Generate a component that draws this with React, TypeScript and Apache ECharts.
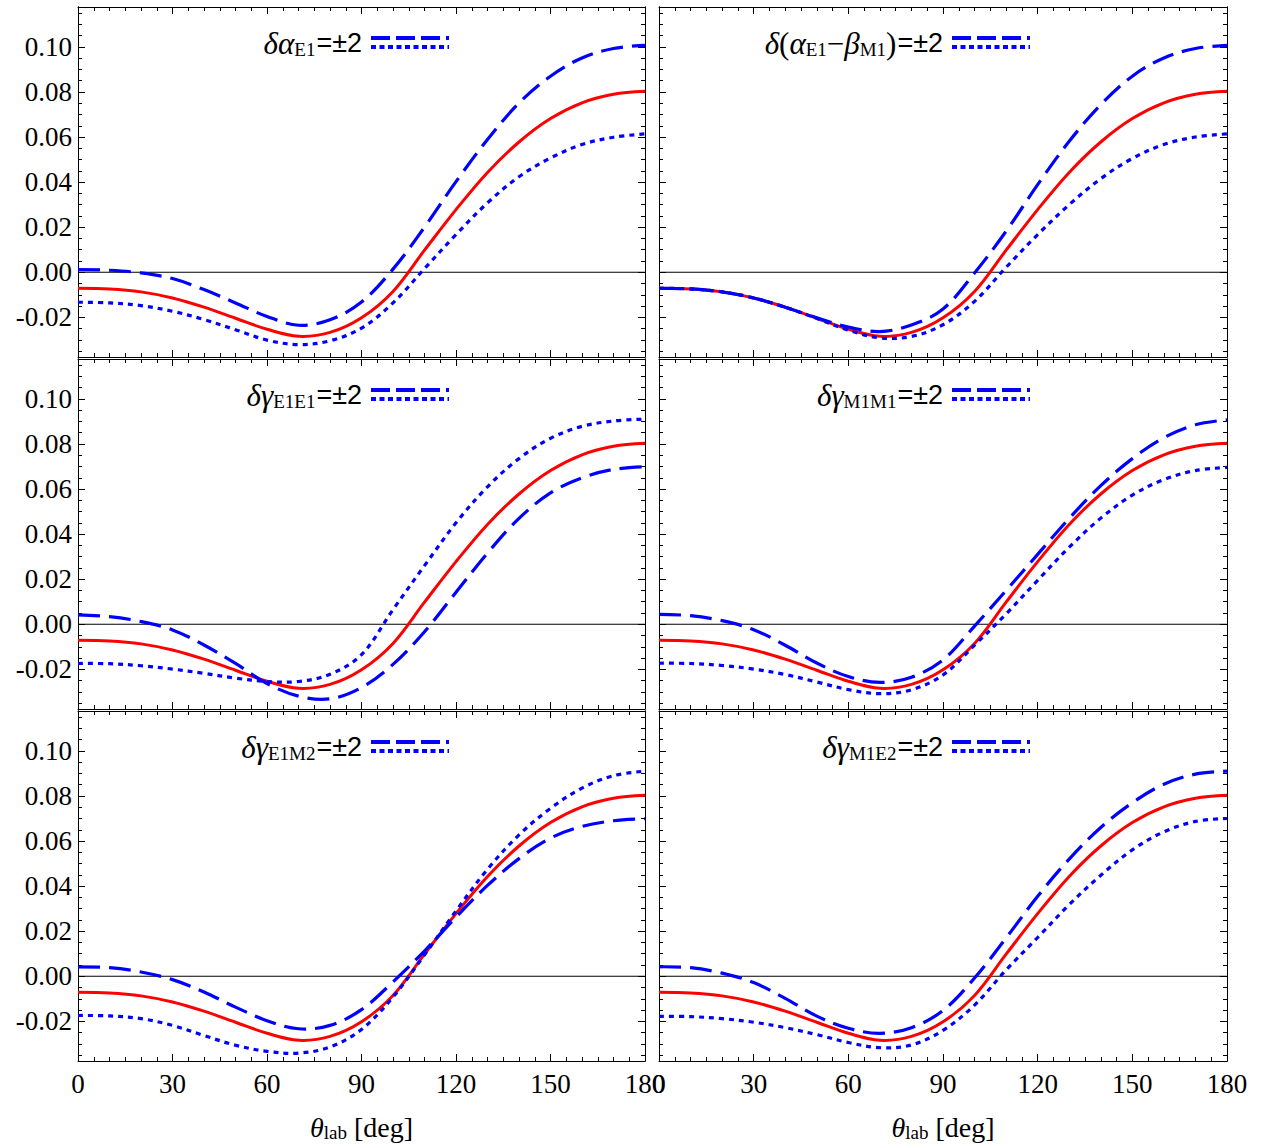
import React, { useEffect, useRef } from "react";
import * as echarts from "echarts";

// ---------- data ----------
const THETA = [0, 10, 20, 30, 40, 50, 60, 70, 80, 90, 100, 110, 120, 130, 140, 150, 160, 170, 180];

const BASE = [-0.0071, -0.0074, -0.0087, -0.0114, -0.0155, -0.0204, -0.0253, -0.0284, -0.0267, -0.0202, -0.0085, 0.0098, 0.0278, 0.0443, 0.0578, 0.0682, 0.0752, 0.079, 0.0803];

const ALPHA_E1_DASHED = [0.0012, 0.0009, -0.0003, -0.0028, -0.0077, -0.0136, -0.0196, -0.0235, -0.0211, -0.0132, 0.0014, 0.02, 0.0402, 0.0589, 0.0751, 0.087, 0.0951, 0.0993, 0.1007];
const ALPHA_E1_DOTTED = [-0.0133, -0.0136, -0.0148, -0.0173, -0.021, -0.0255, -0.0301, -0.0321, -0.0304, -0.0248, -0.0136, 0.0016, 0.0167, 0.0308, 0.0424, 0.0507, 0.0567, 0.0599, 0.0614];

const AB_DASHED = [-0.0071, -0.0074, -0.0087, -0.0114, -0.0155, -0.0202, -0.0243, -0.0263, -0.0234, -0.0163, -0.0003, 0.0182, 0.0389, 0.0581, 0.0744, 0.087, 0.0951, 0.0993, 0.1007];
const AB_DOTTED = [-0.0071, -0.0074, -0.0087, -0.0114, -0.0155, -0.0205, -0.0257, -0.0291, -0.0285, -0.0233, -0.0129, 0.0022, 0.0167, 0.03, 0.0415, 0.0505, 0.0567, 0.06, 0.0614];

const GE1E1_DASHED = [0.0042, 0.0034, 0.0012, -0.0025, -0.0092, -0.0174, -0.0263, -0.0319, -0.0331, -0.0281, -0.0178, -0.0033, 0.0142, 0.0316, 0.047, 0.0583, 0.065, 0.0687, 0.0699];
const GE1E1_DOTTED = [-0.0174, -0.0175, -0.0184, -0.0199, -0.0218, -0.0239, -0.0254, -0.0254, -0.0222, -0.0135, 0.0065, 0.026, 0.045, 0.061, 0.0735, 0.0825, 0.0878, 0.0902, 0.091];

const GM1M1_DASHED = [0.0044, 0.0038, 0.0016, -0.0024, -0.0093, -0.0172, -0.0232, -0.0258, -0.0235, -0.0158, -0.0008, 0.015, 0.031, 0.047, 0.0615, 0.0735, 0.0828, 0.0885, 0.0907];
const GM1M1_DOTTED = [-0.0173, -0.0174, -0.0183, -0.0199, -0.0223, -0.0256, -0.029, -0.0308, -0.0291, -0.0225, -0.0093, 0.0046, 0.0195, 0.0342, 0.0471, 0.0573, 0.0642, 0.0682, 0.0696];

const GE1M2_DASHED = [0.0042, 0.0038, 0.0019, -0.0015, -0.007, -0.0137, -0.0197, -0.0233, -0.0218, -0.0148, -0.0025, 0.0112, 0.0262, 0.0403, 0.0522, 0.0613, 0.0665, 0.069, 0.0699];
const GE1M2_DOTTED = [-0.0174, -0.0176, -0.0188, -0.0218, -0.0263, -0.0306, -0.0333, -0.0341, -0.0314, -0.0236, -0.0092, 0.0095, 0.029, 0.0475, 0.0627, 0.0745, 0.0835, 0.089, 0.091];

const GM1E2_DASHED = [0.0042, 0.0038, 0.0014, -0.0028, -0.0098, -0.0177, -0.0231, -0.0253, -0.0228, -0.0152, -0.0008, 0.017, 0.0355, 0.052, 0.066, 0.077, 0.0852, 0.0897, 0.091];
const GM1E2_DOTTED = [-0.0178, -0.0179, -0.0188, -0.0204, -0.0228, -0.0259, -0.0294, -0.0317, -0.0305, -0.024, -0.0128, 0.0028, 0.0172, 0.0318, 0.0448, 0.0561, 0.0641, 0.0687, 0.07];

const ZERO_LINE = [[0, 0], [180, 0]];

const PANEL_LABELS = [
  "{g|δα}{s|E1}{n|=±2}",
  "{g|δ}{r|(}{g|α}{s|E1}{r|−}{g|β}{s|M1}{r|)}{n|=±2}",
  "{g|δγ}{s|E1E1}{n|=±2}",
  "{g|δγ}{s|M1M1}{n|=±2}",
  "{g|δγ}{s|E1M2}{n|=±2}",
  "{g|δγ}{s|M1E2}{n|=±2}",
];
const PANEL_DASHED = [ALPHA_E1_DASHED, AB_DASHED, GE1E1_DASHED, GM1M1_DASHED, GE1M2_DASHED, GM1E2_DASHED];
const PANEL_DOTTED = [ALPHA_E1_DOTTED, AB_DOTTED, GE1E1_DOTTED, GM1M1_DOTTED, GE1M2_DOTTED, GM1E2_DOTTED];

const Y_MAJOR_TICKS = [-0.02, 0, 0.02, 0.04, 0.06, 0.08, 0.1];
const Y_MINOR_TICKS = [-0.035, -0.03, -0.025, -0.02, -0.015, -0.01, -0.005, 0, 0.005, 0.01, 0.015, 0.02, 0.025, 0.03, 0.035, 0.04, 0.045, 0.05, 0.055, 0.06, 0.065, 0.07, 0.075, 0.08, 0.085, 0.09, 0.095, 0.1, 0.105, 0.11, 0.115];
const X_NAME = "{t|θ}{s|lab}{r| [deg]}";

// ---------- layout ----------
const W = 1267;
const H = 1148;
const Y_MIN = -0.0376;
const Y_MAX = 0.1177;
const COLS = [
  { left: 78, width: 567 },
  { left: 659, width: 568 },
];
const ROWS = [
  { top: 7, height: 350 },
  { top: 359, height: 350 },
  { top: 711, height: 350 },
];
const SERIF = "'Liberation Serif', 'DejaVu Serif', serif";
const SANS = "'Liberation Sans', 'DejaVu Sans', sans-serif";

const legendRich = {
  g: { fontFamily: SERIF, fontStyle: "italic", fontSize: 31, lineHeight: 32, color: "#000" },
  r: { fontFamily: SERIF, fontSize: 31, lineHeight: 32, color: "#000" },
  s: { fontFamily: SERIF, fontSize: 19, lineHeight: 15, verticalAlign: "bottom", color: "#000" },
  n: { fontFamily: SANS, fontSize: 27, lineHeight: 32, color: "#000", padding: [0, 0, 0, 1] },
};

// A smooth curve series: the points go through the axes' scales (api.coord),
// and are joined by a cardinal spline (zrender polyline smoothing).
function curveSeries(xIdx: number, yIdx: number, values: number[], lineStyle: any, z: number) {
  const data = THETA.map((t, k) => [t, values[k]]);
  return {
    type: "custom",
    coordinateSystem: "cartesian2d",
    xAxisIndex: xIdx,
    yAxisIndex: yIdx,
    data,
    encode: { x: 0, y: 1 },
    z,
    silent: true,
    renderItem: (params: any, api: any) => {
      if (params.dataIndex !== 0) return null;
      const pts = data.map((d) => api.coord(d));
      return {
        type: "polyline",
        shape: { points: pts, smooth: 0.35 },
        style: { fill: "none", ...lineStyle },
      };
    },
  };
}

function buildOption() {
  const grid: any[] = [];
  const xAxis: any[] = [];
  const yAxis: any[] = [];
  const series: any[] = [];
  const graphic: any[] = [];

  for (let i = 0; i < 6; i++) {
    const row = Math.floor(i / 2);
    const col = i % 2;
    const g = { left: COLS[col].left, width: COLS[col].width, top: ROWS[row].top, height: ROWS[row].height };
    grid.push({ ...g, show: false, containLabel: false });

    const tickStyle = { color: "#000", width: 1 };
    const xBase = {
      gridIndex: i,
      type: "value",
      min: 0,
      max: 180,
      interval: 30,
      axisLine: { show: true, onZero: false, lineStyle: { color: "#000", width: 1 } },
      axisTick: { show: true, inside: true, length: 7, lineStyle: tickStyle },
      minorTick: { show: true, splitNumber: 6, length: 4, lineStyle: tickStyle },
      splitLine: { show: false },
      minorSplitLine: { show: false },
    };
    xAxis.push({
      ...xBase,
      position: "bottom",
      axisLabel: {
        show: row === 2,
        margin: 9,
        fontFamily: SERIF,
        fontSize: 27,
        color: "#000",
        formatter: (v: number) => String(v),
      },
      name: row === 2 ? X_NAME : "",
      nameLocation: "middle",
      nameGap: 51,
      nameTextStyle: {
        fontFamily: SERIF,
        rich: {
          t: { fontFamily: SERIF, fontStyle: "italic", fontSize: 28, lineHeight: 30, color: "#000" },
          s: { fontFamily: SERIF, fontSize: 19, lineHeight: 14, verticalAlign: "bottom", color: "#000" },
          r: { fontFamily: SERIF, fontSize: 28, lineHeight: 30, color: "#000" },
        },
      },
    });
    xAxis.push({ ...xBase, position: "top", axisLabel: { show: false } });

    const yBase = {
      gridIndex: i,
      type: "value",
      min: Y_MIN,
      max: Y_MAX,
      splitLine: { show: false },
      axisLine: { show: true, onZero: false, lineStyle: { color: "#000", width: 1 } },
    };
    for (const pos of ["left", "right"]) {
      yAxis.push({
        ...yBase,
        position: pos,
        axisTick: { show: true, inside: true, length: 7, customValues: Y_MAJOR_TICKS, lineStyle: tickStyle },
        axisLabel: {
          show: pos === "left" && col === 0,
          customValues: Y_MAJOR_TICKS,
          margin: 6,
          fontFamily: SERIF,
          fontSize: 27,
          color: "#000",
          formatter: (v: number) => v.toFixed(2),
        },
      });
      yAxis.push({
        ...yBase,
        position: pos,
        axisTick: { show: true, inside: true, length: 4, customValues: Y_MINOR_TICKS, lineStyle: tickStyle },
        axisLabel: { show: false },
      });
    }

    const xIdx = i * 2;
    const yIdx = i * 4;
    series.push({
      type: "line",
      xAxisIndex: xIdx,
      yAxisIndex: yIdx,
      data: ZERO_LINE,
      showSymbol: false,
      symbol: "none",
      silent: true,
      lineStyle: { color: "#000", width: 1.1, type: "solid" },
      z: 1,
    });
    series.push(curveSeries(xIdx, yIdx, BASE, { stroke: "#ff0000", lineWidth: 3 }, 2));
    series.push(
      curveSeries(xIdx, yIdx, PANEL_DASHED[i], { stroke: "#0000ff", lineWidth: 3.2, lineDash: [22, 9], lineCap: "butt" }, 3)
    );
    series.push(
      curveSeries(xIdx, yIdx, PANEL_DOTTED[i], { stroke: "#0000ff", lineWidth: 3.2, lineDash: [5, 5], lineCap: "butt" }, 4)
    );

    // in-panel legend
    graphic.push({
      type: "text",
      x: g.left + 284,
      y: g.top + 36,
      style: {
        text: PANEL_LABELS[i],
        rich: legendRich,
        align: "right",
        verticalAlign: "middle",
        textAlign: "right",
        textVerticalAlign: "middle",
      },
      z: 10,
    });
    graphic.push({
      type: "line",
      shape: { x1: g.left + 293, y1: g.top + 31, x2: g.left + 371, y2: g.top + 31 },
      style: { stroke: "#0000ff", lineWidth: 4, lineDash: [19, 6] },
      z: 10,
    });
    graphic.push({
      type: "line",
      shape: { x1: g.left + 293, y1: g.top + 40, x2: g.left + 371, y2: g.top + 40 },
      style: { stroke: "#0000ff", lineWidth: 4, lineDash: [5, 3.5] },
      z: 10,
    });
  }

  return {
    animation: false,
    backgroundColor: "#ffffff",
    textStyle: { fontFamily: SERIF },
    grid,
    xAxis,
    yAxis,
    series,
    graphic,
  };
}

export default function App() {
  const ref = useRef<HTMLDivElement>(null);
  useEffect(() => {
    if (!ref.current) return;
    const chart = echarts.init(ref.current, undefined, { renderer: "svg" });
    chart.setOption(buildOption() as any);
    return () => chart.dispose();
  }, []);
  return (
    <div
      ref={ref}
      style={{ position: "absolute", left: 0, top: 0, width: W, height: H, background: "#fff" }}
    />
  );
}
